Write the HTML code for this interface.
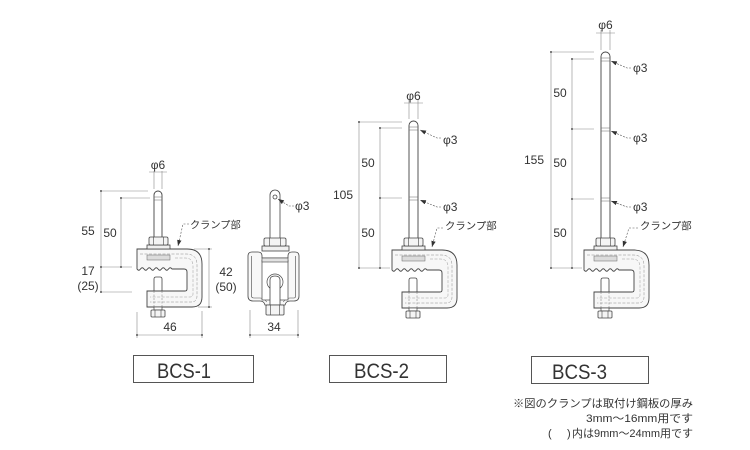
<!DOCTYPE html>
<html><head><meta charset="utf-8"><style>
html,body{margin:0;padding:0;background:#fff;}
svg{display:block;}
text{font-family:"Liberation Sans","Noto Sans CJK JP",sans-serif;fill:#333;}
.jp{font-family:"Liberation Sans","Noto Sans CJK JP",sans-serif;}
</style></head><body>
<svg width="750" height="450" viewBox="0 0 750 450" xmlns="http://www.w3.org/2000/svg">
<defs>
<marker id="ah" markerWidth="7" markerHeight="6" refX="6" refY="3" orient="auto" markerUnits="userSpaceOnUse"><path d="M0,0.8 L6,3 L0,5.2Z" fill="#333"/></marker>
<g id="clamp">
  <path d="M17,42 L17,30 Q17,28 19,28 L23,28 Q25,28 25,30 L25,42" fill="#fff" stroke="#444" stroke-width="0.8"/>
  <path d="M0,0 L50,0 Q65,0 65,15 L65,48 Q65,58 55,58 L10,58 L10,42 L48,42 Q50,42 50,40 L50,23 Q50,20 47,20 L35,20 q-1.75,-2.5 -3.5,0 q-1.75,2.5 -3.5,0 q-1.75,-2.5 -3.5,0 q-1.75,2.5 -3.5,0 q-1.75,-2.5 -3.5,0 q-1.75,2.5 -3.5,0 q-1.75,-2.5 -3.5,0 q-1.75,2.5 -3.5,0 q-1.75,-2.5 -3.5,0 q-1.75,2.5 -3.5,0 Z" fill="#f7f7f7" stroke="#444" stroke-width="0.9"/>
  <path d="M3,5 L49,5 Q60,5 60,16 L60,47 Q60,53 54,53 L13,53" fill="none" stroke="#888" stroke-width="0.5" stroke-dasharray="3,1.5"/>
  <path d="M38,9 L48,9 Q56,9 56,17 L56,45 Q56,48 53,48 L13,48" fill="none" stroke="#999" stroke-width="0.5" stroke-dasharray="3,1.5"/>
  <rect x="10" y="6" width="23" height="5" fill="#dcdcdc" stroke="#666" stroke-width="0.5"/>
  <line x1="17" y1="42" x2="17" y2="58" stroke="#777" stroke-width="0.5" stroke-dasharray="2,1.5"/>
  <line x1="25" y1="42" x2="25" y2="58" stroke="#777" stroke-width="0.5" stroke-dasharray="2,1.5"/>
  <rect x="17" y="58" width="8" height="3" fill="#fff" stroke="#444" stroke-width="0.7"/>
  <rect x="14" y="61" width="14" height="7" rx="1" fill="#f4f4f4" stroke="#444" stroke-width="0.8"/>
  <line x1="18" y1="61" x2="18" y2="68" stroke="#444" stroke-width="0.6"/>
  <line x1="24" y1="61" x2="24" y2="68" stroke="#444" stroke-width="0.6"/>
  <rect x="10" y="-4" width="23" height="4" fill="#f0f0f0" stroke="#444" stroke-width="0.8"/>
  <rect x="12" y="-12" width="19" height="8" rx="1.5" fill="#f4f4f4" stroke="#444" stroke-width="0.8"/>
  <line x1="16.5" y1="-12" x2="16.5" y2="-4" stroke="#444" stroke-width="0.6"/>
  <line x1="26.5" y1="-12" x2="26.5" y2="-4" stroke="#444" stroke-width="0.6"/>
</g>
</defs>

<!-- ========== BCS-1 front ========== -->
<path d="M154,238 L154,195 A4,4 0 0 1 162,195 L162,238" fill="#fff" stroke="#444" stroke-width="0.9"/>
<line x1="154" y1="197" x2="162" y2="197" stroke="#666" stroke-width="0.5"/>
<line x1="154" y1="200" x2="162" y2="200" stroke="#666" stroke-width="0.5"/>
<use href="#clamp" x="137" y="249"/>

<g stroke="#888" stroke-width="0.6" fill="none">
  <line x1="154" y1="171" x2="154" y2="189"/><line x1="162" y1="171" x2="162" y2="189"/>
  <line x1="149" y1="172" x2="167" y2="172"/>
  <line x1="101" y1="191" x2="101" y2="292"/>
  <line x1="101" y1="191" x2="148" y2="191"/>
  <line x1="101" y1="267" x2="132" y2="267"/>
  <line x1="101" y1="292" x2="132" y2="292"/>
  <line x1="121" y1="198" x2="121" y2="267"/>
  <line x1="121" y1="198" x2="150" y2="198"/>
  <line x1="137" y1="312" x2="137" y2="338"/><line x1="202" y1="311" x2="202" y2="338"/>
  <line x1="137" y1="335" x2="202" y2="335"/>
  <line x1="209" y1="249" x2="209" y2="307"/>
  <line x1="194" y1="249" x2="212" y2="249"/>
  <line x1="198" y1="307" x2="212" y2="307"/>
</g>
<g fill="#555">
  <circle cx="101" cy="191" r="1"/><circle cx="101" cy="267" r="1"/><circle cx="101" cy="292" r="1"/>
  <circle cx="121" cy="198" r="1"/><circle cx="121" cy="267" r="1"/>
  <circle cx="137" cy="335" r="1"/><circle cx="202" cy="335" r="1"/>
  <circle cx="209" cy="249" r="1"/><circle cx="209" cy="307" r="1"/>
</g>
<text x="158" y="169" font-size="12" text-anchor="middle">φ6</text>
<text x="88" y="235" font-size="12" text-anchor="middle">55</text>
<text x="110" y="237" font-size="12" text-anchor="middle">50</text>
<text x="88" y="275" font-size="12" text-anchor="middle">17</text>
<text x="88" y="290" font-size="12" text-anchor="middle">(25)</text>
<text x="170" y="331" font-size="12" text-anchor="middle">46</text>
<text x="226" y="276" font-size="12" text-anchor="middle">42</text>
<text x="226" y="291" font-size="12" text-anchor="middle">(50)</text>
<path d="M189,224 L183,224 L178,246" fill="none" stroke="#555" stroke-width="0.6" stroke-dasharray="2,1.5" marker-end="url(#ah)"/>
<text x="190" y="228.5" font-size="10.2" class="jp">クランプ部</text>

<!-- ========== BCS-1 side ========== -->
<g stroke="#444" stroke-width="0.8" fill="#fff">
  <path d="M270,240 L270,195 A5,5 0 0 1 280,195 L280,240 Z"/>
  <circle cx="275" cy="197" r="2"/>
  <path d="M248,256 Q248,252 252,252 L258,252 Q262,252 262,256 L262,258 L288,258 L288,256 Q288,252 292,252 L295,252 Q299,252 299,256 L299,296 Q299,301 294,301 L290,301 Q286,301 285,305 L265,305 Q264,301 260,301 L253,301 Q248,301 248,296 Z" fill="#f8f8f8"/>
  <path d="M251.5,256 L251.5,296 Q251.5,298 254,298 L260,298 Q265,298 266.5,302 M283.5,302 Q285,298 290,298 L294,298 Q295.5,298 295.5,296 L295.5,256" fill="none" stroke-width="0.6"/>
  <rect x="262" y="260" width="26" height="40" fill="#fff" stroke-width="0.7"/>
  <rect x="262" y="258" width="26" height="4" fill="#e2e2e2" stroke-width="0.6"/>
  <circle cx="275" cy="282" r="8" fill="#fff" stroke-width="0.7"/>
  <path d="M270,305 L270,280 Q270,276 275,276 Q280,276 280,280 L280,305 Z" fill="#fff"/>
  <rect x="266" y="305" width="18" height="10" rx="1" fill="#f4f4f4"/>
  <line x1="270.5" y1="305" x2="270.5" y2="315" stroke-width="0.6"/>
  <line x1="279.5" y1="305" x2="279.5" y2="315" stroke-width="0.6"/>
  <rect x="262" y="246" width="27" height="5" fill="#f0f0f0"/>
  <rect x="264" y="238" width="22" height="8" rx="1.5" fill="#f4f4f4"/>
  <line x1="269.5" y1="238" x2="269.5" y2="246" stroke-width="0.6"/>
  <line x1="280.5" y1="238" x2="280.5" y2="246" stroke-width="0.6"/>
</g>
<g stroke="#888" stroke-width="0.6">
  <line x1="250" y1="310" x2="250" y2="338"/><line x1="298" y1="310" x2="298" y2="338"/>
  <line x1="250" y1="335" x2="298" y2="335"/>
</g>
<circle cx="250" cy="335" r="1" fill="#555"/><circle cx="298" cy="335" r="1" fill="#555"/>
<text x="274" y="331" font-size="12" text-anchor="middle">34</text>
<path d="M294,206 L289,206 L278,199" fill="none" stroke="#555" stroke-width="0.6" stroke-dasharray="2,1.2" marker-end="url(#ah)"/>
<text x="295" y="210" font-size="12">φ3</text>

<!-- ========== BCS-2 ========== -->
<path d="M409,238 L409,125.5 A4.5,4.5 0 0 1 418,125.5 L418,238" fill="#fff" stroke="#444" stroke-width="0.9"/>
<g stroke="#666" stroke-width="0.5">
  <line x1="409" y1="127" x2="418" y2="127"/><line x1="409" y1="130" x2="418" y2="130"/>
  <line x1="409" y1="197" x2="418" y2="197"/><line x1="409" y1="200" x2="418" y2="200"/>
</g>
<use href="#clamp" x="392" y="250"/>
<g stroke="#888" stroke-width="0.6" fill="none">
  <line x1="409" y1="100" x2="409" y2="119"/><line x1="418" y1="100" x2="418" y2="119"/>
  <line x1="404" y1="103" x2="423" y2="103"/>
  <line x1="359" y1="122" x2="359" y2="268"/>
  <line x1="359" y1="122" x2="402" y2="122"/>
  <line x1="359" y1="268" x2="390" y2="268"/>
  <line x1="380" y1="128" x2="380" y2="268"/>
  <line x1="380" y1="128" x2="402" y2="128"/>
  <line x1="380" y1="198" x2="402" y2="198"/>
</g>
<g fill="#555">
  <circle cx="359" cy="122" r="1"/><circle cx="359" cy="268" r="1"/>
  <circle cx="380" cy="128" r="1"/><circle cx="380" cy="198" r="1"/><circle cx="380" cy="268" r="1"/>
</g>
<text x="413.5" y="100" font-size="12" text-anchor="middle">φ6</text>
<text x="343" y="199" font-size="12" text-anchor="middle">105</text>
<text x="368" y="167" font-size="12" text-anchor="middle">50</text>
<text x="368" y="237" font-size="12" text-anchor="middle">50</text>
<path d="M441,138 L437,138 L420,130" fill="none" stroke="#555" stroke-width="0.6" stroke-dasharray="2,1.2" marker-end="url(#ah)"/>
<text x="443" y="144" font-size="12">φ3</text>
<path d="M441,207 L437,207 L420,200" fill="none" stroke="#555" stroke-width="0.6" stroke-dasharray="2,1.2" marker-end="url(#ah)"/>
<text x="443" y="211" font-size="12">φ3</text>
<path d="M443,228 L437,228 L432,247" fill="none" stroke="#555" stroke-width="0.6" stroke-dasharray="2,1.5" marker-end="url(#ah)"/>
<text x="445" y="229.5" font-size="10.4" class="jp">クランプ部</text>

<!-- ========== BCS-3 ========== -->
<path d="M601,238 L601,56.5 A4.5,4.5 0 0 1 610,56.5 L610,238" fill="#fff" stroke="#444" stroke-width="0.9"/>
<g stroke="#666" stroke-width="0.5">
  <line x1="601" y1="58" x2="610" y2="58"/><line x1="601" y1="61" x2="610" y2="61"/>
  <line x1="601" y1="128" x2="610" y2="128"/><line x1="601" y1="131" x2="610" y2="131"/>
  <line x1="601" y1="198" x2="610" y2="198"/><line x1="601" y1="201" x2="610" y2="201"/>
</g>
<use href="#clamp" x="584" y="250"/>
<g stroke="#888" stroke-width="0.6" fill="none">
  <line x1="601" y1="30" x2="601" y2="50"/><line x1="610" y1="30" x2="610" y2="50"/>
  <line x1="596" y1="33" x2="615" y2="33"/>
  <line x1="551" y1="52" x2="551" y2="268"/>
  <line x1="551" y1="52" x2="594" y2="52"/>
  <line x1="551" y1="268" x2="582" y2="268"/>
  <line x1="572" y1="59" x2="572" y2="268"/>
  <line x1="572" y1="59" x2="594" y2="59"/>
  <line x1="572" y1="129" x2="594" y2="129"/>
  <line x1="572" y1="199" x2="594" y2="199"/>
</g>
<g fill="#555">
  <circle cx="551" cy="52" r="1"/><circle cx="551" cy="268" r="1"/>
  <circle cx="572" cy="59" r="1"/><circle cx="572" cy="129" r="1"/><circle cx="572" cy="199" r="1"/><circle cx="572" cy="268" r="1"/>
</g>
<text x="605.5" y="29" font-size="12" text-anchor="middle">φ6</text>
<text x="534" y="164" font-size="12" text-anchor="middle">155</text>
<text x="560" y="97" font-size="12" text-anchor="middle">50</text>
<text x="560" y="167" font-size="12" text-anchor="middle">50</text>
<text x="560" y="237" font-size="12" text-anchor="middle">50</text>
<path d="M631,68 L627,68 L611,61" fill="none" stroke="#555" stroke-width="0.6" stroke-dasharray="2,1.2" marker-end="url(#ah)"/>
<text x="633" y="72" font-size="12">φ3</text>
<path d="M631,138 L627,138 L611,131" fill="none" stroke="#555" stroke-width="0.6" stroke-dasharray="2,1.2" marker-end="url(#ah)"/>
<text x="633" y="142" font-size="12">φ3</text>
<path d="M631,207 L627,207 L611,201" fill="none" stroke="#555" stroke-width="0.6" stroke-dasharray="2,1.2" marker-end="url(#ah)"/>
<text x="633" y="211" font-size="12">φ3</text>
<path d="M638,228 L629,228 L623,247" fill="none" stroke="#555" stroke-width="0.6" stroke-dasharray="2,1.5" marker-end="url(#ah)"/>
<text x="640" y="229.5" font-size="10.4" class="jp">クランプ部</text>

<!-- ========== Label boxes ========== -->
<rect x="133.5" y="355.5" width="120" height="27" fill="#fff" stroke="#555" stroke-width="1"/>
<text x="157" y="378" font-size="21" textLength="54" lengthAdjust="spacingAndGlyphs">BCS-1</text>
<rect x="329.5" y="355.5" width="117" height="27" fill="#fff" stroke="#555" stroke-width="1"/>
<text x="354" y="378" font-size="21" textLength="55" lengthAdjust="spacingAndGlyphs">BCS-2</text>
<rect x="531.5" y="356.5" width="117" height="27" fill="#fff" stroke="#555" stroke-width="1"/>
<text x="552" y="379" font-size="21" textLength="55" lengthAdjust="spacingAndGlyphs">BCS-3</text>

<!-- ========== Notes ========== -->
<text x="513" y="407" font-size="11" class="jp" textLength="180" lengthAdjust="spacingAndGlyphs">※図のクランプは取付け鋼板の厚み</text>
<text x="586" y="422" font-size="11" class="jp" textLength="107" lengthAdjust="spacingAndGlyphs">3mm～16mm用です</text>
<text x="548" y="437" font-size="11" class="jp">(</text>
<text x="567" y="437" font-size="11" class="jp">)</text>
<text x="572" y="437" font-size="11" class="jp" textLength="121" lengthAdjust="spacingAndGlyphs">内は9mm～24mm用です</text>
</svg>
</body></html>
